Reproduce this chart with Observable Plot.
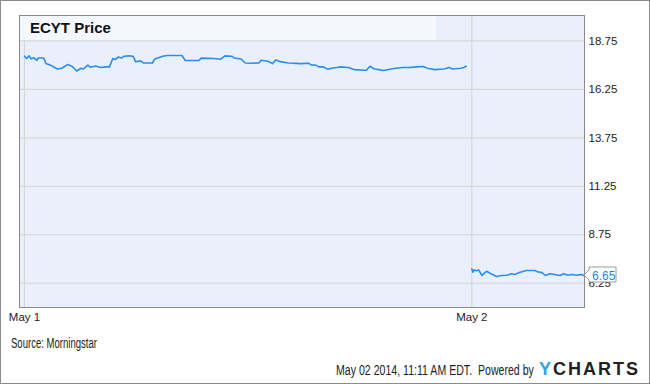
<!DOCTYPE html>
<html>
<head>
<meta charset="utf-8">
<script src="https://cdn.jsdelivr.net/npm/d3@7"></script>
<script src="https://cdn.jsdelivr.net/npm/@observablehq/plot@0.6"></script>
<style>
  body { margin: 0; background: #fff; }
  #wrap { position: relative; width: 650px; height: 384px; overflow: hidden; font-family: "Liberation Sans", Arial, sans-serif; }
  #border { position: absolute; left: 0; top: 0; width: 650px; height: 384px; box-sizing: border-box; border: 1px solid #8c8c8c; pointer-events: none; }
  #titlebox { position: absolute; left: 20px; top: 16px; width: 416px; height: 24px; background: #f4f8fe; }
  #title { position: absolute; left: 30px; top: 18px; font: bold 15px "Liberation Sans", Arial, sans-serif; color: #111; line-height: 20px; }
  .narrow { white-space: pre; transform-origin: 0 0; line-height: 16px; }
  #source { position: absolute; left: 11px; top: 335px; font-size: 14px; color: #222; }
  #footer { position: absolute; left: 336px; top: 362px; font-size: 14px; color: #222; }
  #logo { position: absolute; left: 539px; top: 359px; font: bold 18px "Liberation Sans", Arial, sans-serif; letter-spacing: 2px; color: #222; }
  #logo span { color: #2aa6e6; }
</style>
</head>
<body>
<div id="wrap">
  <div id="chart"></div>
  <div id="titlebox"></div>
  <div id="title">ECYT Price</div>
  <div id="source" class="narrow" data-w="86">Source: Morningstar</div>
  <div id="footer" class="narrow" data-w="198">May 02 2014, 11:11 AM EDT.  Powered by</div>
  <div id="logo"><span>Y</span>CHARTS</div>
  <div id="border"></div>
</div>
<script>
// Trading minutes since 9:30 open, May 1
const day1Minutes = [0,2,4,6,8,11,12,17,19,23,29,33,38,42,46,50,52,56,58,63,67,72,75,78,80,83,86,88,92,96,98,103,105,113,115,122,126,139,142,154,156,167,173,177,183,185,191,194,195,200,207,209,215,219,222,226,233,244,251,253,257,260,264,268,271,276,279,286,291,300,302,305,309,313,317,324,328,334,340,346,352,356,362,370,375,378,385,388,390];
const day1Prices  = [17.96,17.84,17.98,17.82,17.89,17.75,17.87,17.87,17.58,17.50,17.30,17.34,17.53,17.44,17.20,17.34,17.30,17.50,17.39,17.46,17.38,17.41,17.41,17.84,17.79,17.92,17.87,17.96,17.98,17.95,17.68,17.71,17.61,17.61,17.82,17.96,18.00,18.00,17.74,17.74,17.86,17.84,17.80,17.98,17.96,17.87,17.82,17.66,17.61,17.60,17.61,17.75,17.70,17.58,17.77,17.68,17.61,17.58,17.60,17.51,17.50,17.41,17.41,17.29,17.34,17.38,17.41,17.38,17.27,17.24,17.24,17.44,17.30,17.27,17.22,17.30,17.34,17.38,17.38,17.41,17.43,17.34,17.27,17.30,17.38,17.30,17.34,17.38,17.44];
// Trading minutes since 9:30 open, May 2
const day2Minutes = [0,1,2,4,6,9,11,13,17,22,26,31,35,38,42,48,56,58,62,65,69,73,78,81,85,88,93,97,99];
const day2Prices  = [6.99,6.82,6.94,6.90,6.94,6.65,6.77,6.87,6.74,6.60,6.65,6.66,6.74,6.70,6.80,6.91,6.91,6.84,6.80,6.65,6.74,6.70,6.65,6.74,6.66,6.70,6.66,6.70,6.65];
const sessionOffset = 395;               // position of May 2 open on the trading-time axis
const xTickValues = [0, 395];
const xTickLabels = ["May 1", "May 2"];
const yTickValues = [6.25, 8.75, 11.25, 13.75, 16.25, 18.75];
const lastPrice = 6.65;

const rows = [
  ...day1Minutes.map((m, i) => ({t: m, price: day1Prices[i], day: "May 1"})),
  ...day2Minutes.map((m, i) => ({t: sessionOffset + m, price: day2Prices[i], day: "May 2"}))
];

const plot = Plot.plot({
  width: 650,
  height: 384,
  marginLeft: 19,
  marginRight: 66,
  marginTop: 15,
  marginBottom: 77,
  style: {background: "transparent", fontFamily: "'Liberation Sans', Arial, sans-serif", fontSize: "11px", color: "#222"},
  x: {type: "linear", domain: [-4.4, 494.5], axis: null, label: null},
  y: {domain: [5, 20.06], axis: null, label: null},
  marks: [
    Plot.frame({fill: "#e9f0fb"}),
    Plot.gridY(yTickValues, {stroke: "#d3d3d3", strokeOpacity: 1}),
    Plot.gridX(xTickValues, {stroke: "#d3d3d3", strokeOpacity: 1}),
    Plot.line(rows, {x: "t", y: "price", z: "day", stroke: "#2a8ef0", strokeWidth: 1.6}),
    Plot.axisY(yTickValues, {anchor: "right", label: null, tickSize: 0, tickPadding: 4, tickFormat: d => d.toFixed(2), fontSize: 11.5, fill: "#222"}),
    Plot.axisX(xTickValues, {anchor: "bottom", label: null, tickSize: 0, tickPadding: 5, tickFormat: (d, i) => xTickLabels[i], fontSize: 11.5, fill: "#222"}),
    Plot.frame({stroke: "#8a8a8a"})
  ]
});
document.getElementById("chart").appendChild(plot);

// last price callout
const svg = d3.select(plot);
const xs = plot.scale("x"), ys = plot.scale("y");
const tipX = xs.range[1], tipY = ys.apply(lastPrice);
const g = svg.append("g").attr("text-anchor", "start");
g.append("path")
  .attr("d", `M${tipX},${tipY} L${tipX+5},${tipY-5} L${tipX+5},${tipY-8} L${tipX+32},${tipY-8} L${tipX+32},${tipY+7} L${tipX+5},${tipY+7} L${tipX+5},${tipY+5} Z`)
  .attr("fill", "#fff").attr("stroke", "#999");
g.append("text")
  .attr("x", tipX + 8).attr("y", tipY + 4.5)
  .attr("text-anchor", "start")
  .attr("fill", "#1f86e6").attr("font-size", 12)
  .attr("font-family", "'Liberation Sans', Arial, sans-serif")
  .text(lastPrice.toFixed(2));

// condense footer texts to the reference widths
document.querySelectorAll(".narrow").forEach(el => {
  const w = el.getBoundingClientRect().width;
  el.style.transform = `scaleX(${(+el.dataset.w / w).toFixed(3)})`;
});
</script>
</body>
</html>
